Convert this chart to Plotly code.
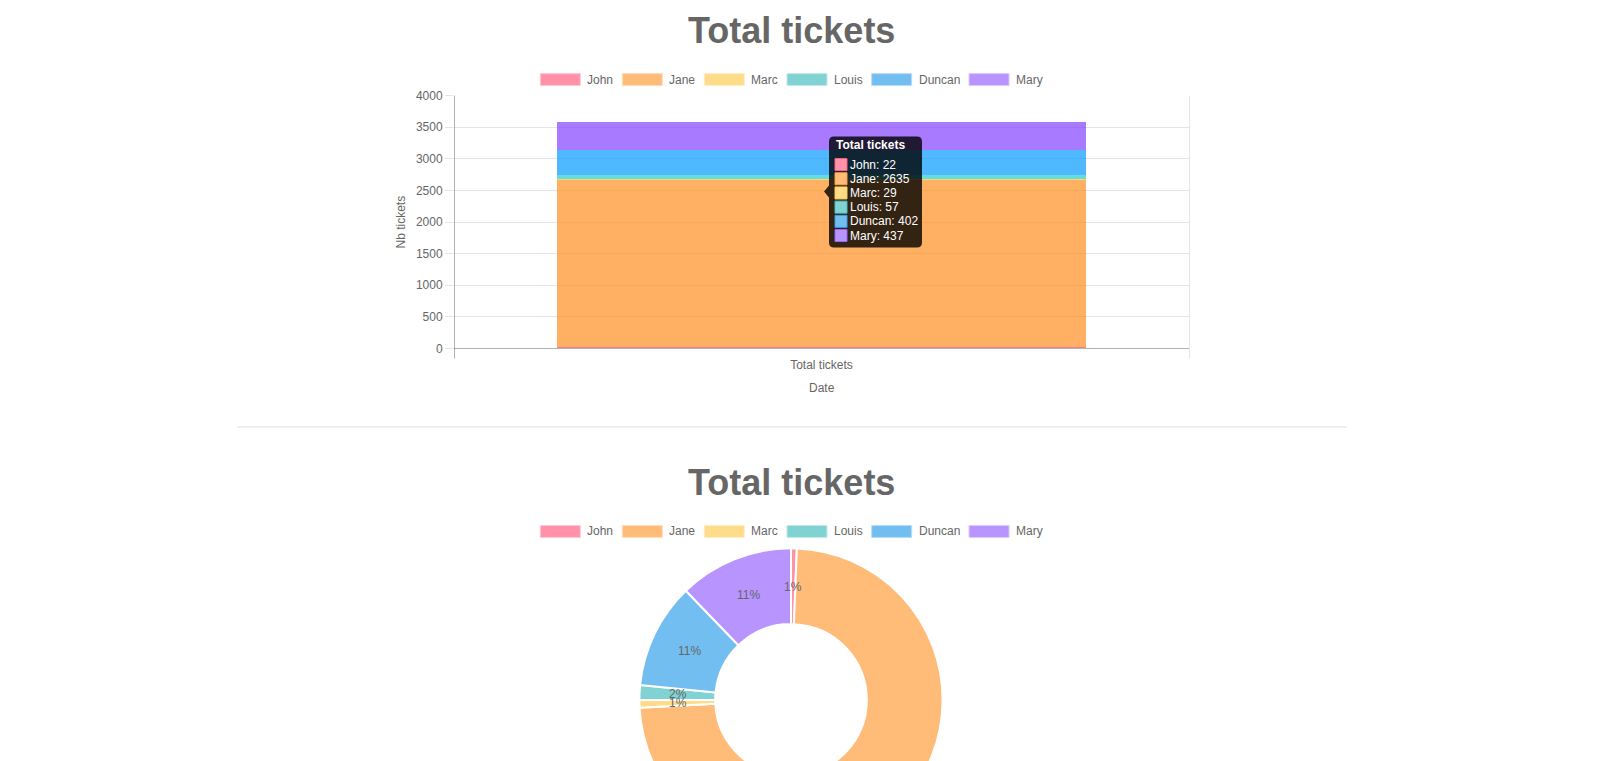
import math
import colorsys
import plotly.graph_objects as go

# ---------------- data ----------------
names = ["John", "Jane", "Marc", "Louis", "Duncan", "Mary"]
bar_values = [22, 2635, 29, 57, 402, 437]
pie_values = [22, 2635, 29, 57, 402, 437]
pie_pct_labels = ["1%", "74%", "1%", "2%", "11%", "11%"]
categories = ["Total tickets"]
y_ticks = [0, 500, 1000, 1500, 2000, 2500, 3000, 3500, 4000]
chart_title = "Total tickets"
x_title = "Date"
y_title = "Nb tickets"
tooltip_title = "Total tickets"

# ---------------- style ----------------
base_rgb = [(255, 99, 132), (255, 159, 64), (255, 205, 86),
            (75, 192, 192), (54, 162, 235), (153, 102, 255)]
FONT = "Liberation Sans, Arial, Helvetica, sans-serif"
GREY = "#666666"
W, H = 1583, 900
# page -> capture correction for the vertical direction
Y_SCALE, Y_OFF = 1.0155, -6.5


def px(x):
    return x / W


def py(y):
    return 1 - (Y_SCALE * y + Y_OFF) / H


def rgba(c, a):
    return f"rgba({c[0]},{c[1]},{c[2]},{a})"


def blend(c, a):
    return "#%02x%02x%02x" % tuple(round(255 - a * (255 - v)) for v in c)


def hover(c):
    h, l, s = colorsys.rgb_to_hls(*(v / 255 for v in c))
    s = min(1.0, s * 1.5)
    l = l * 0.9
    return tuple(round(v * 255) for v in colorsys.hls_to_rgb(h, l, s))


CHAR_W = {"J": 500, "o": 556, "h": 556, "n": 556, "a": 556, "e": 556, "M": 833,
          "r": 333, "c": 500, "L": 556, "u": 556, "i": 222, "s": 500, "D": 722,
          "y": 500}


def text_w(s, size=12):
    return sum(CHAR_W.get(ch, 556) for ch in s) * size / 1000


fig = go.Figure()

# stacked bars (hovered look)
for n, v, c in zip(names, bar_values, base_rgb):
    fig.add_trace(go.Bar(x=categories, y=[v], name=n,
                         marker=dict(color=rgba(hover(c), 0.7), line=dict(width=0)),
                         showlegend=False, hoverinfo="skip"))

# doughnut
PIE_CX, PIE_CY, PIE_R = 791, 699.5, 150.5
DOM_R = PIE_R + 3.5
pcy = Y_SCALE * PIE_CY + Y_OFF
fig.add_trace(go.Pie(labels=names, values=pie_values, hole=0.5, sort=False,
                     direction="clockwise", rotation=0,
                     marker=dict(colors=[blend(c, 0.7) for c in base_rgb],
                                 line=dict(color="white", width=2)),
                     textinfo="none",
                     domain=dict(x=[px(PIE_CX - DOM_R), px(PIE_CX + DOM_R)],
                                 y=[1 - (pcy + DOM_R) / H, 1 - (pcy - DOM_R) / H]),
                     showlegend=False, hoverinfo="skip"))

shapes = []
annotations = []

# percentage labels in the middle of the ring
total_pie = sum(pie_values)
cum = 0
r_mid = PIE_R * 0.75
for v, lab in zip(pie_values, pie_pct_labels):
    ang = 2 * math.pi * (cum + v / 2) / total_pie
    cum += v
    lx = PIE_CX + r_mid * math.sin(ang)
    ly = PIE_CY - r_mid * math.cos(ang)
    if ly > 755:
        continue  # below the visible part of the page
    annotations.append(dict(x=px(lx), y=py(ly), xref="paper", yref="paper", text=lab,
                            showarrow=False, xanchor="center", yanchor="middle",
                            font=dict(size=12, color=GREY, family=FONT)))

# titles
for ty in (30, 482):
    annotations.append(dict(x=px(791), y=py(ty), xref="paper", yref="paper",
                            text=f"<b>{chart_title}</b>", showarrow=False,
                            font=dict(size=36, color=GREY, family=FONT),
                            xanchor="center", yanchor="middle"))

# custom legends
item_w = [40 + 6 + text_w(n) for n in names]
total = sum(item_w) + 10 * (len(names) - 1)
for ly in (79, 531):
    x = 791 - total / 2
    for n, c, w in zip(names, base_rgb, item_w):
        shapes.append(dict(type="rect", xref="paper", yref="paper",
                           x0=px(x), x1=px(x + 40), y0=py(ly - 6), y1=py(ly + 6),
                           fillcolor=blend(c, 0.7), line=dict(color=blend(c, 0.35), width=1)))
        annotations.append(dict(x=px(x + 45), y=py(ly), xref="paper", yref="paper",
                                text=n, showarrow=False, xanchor="left", yanchor="middle",
                                font=dict(size=12, color=GREY, family=FONT)))
        x += w + 10

# axis frame lines
shapes.append(dict(type="line", xref="paper", yref="paper", x0=px(454.5), x1=px(454.5),
                   y0=py(95), y1=py(358), line=dict(color="rgba(0,0,0,0.3)", width=1)))
shapes.append(dict(type="line", xref="paper", yref="paper", x0=px(1189.5), x1=px(1189.5),
                   y0=py(95), y1=py(358), line=dict(color="rgba(0,0,0,0.1)", width=1)))
# separator
shapes.append(dict(type="line", xref="paper", yref="paper", x0=px(237), x1=px(1347),
                   y0=py(426.5), y1=py(426.5), line=dict(color="rgba(0,0,0,0.12)", width=1)))

# axis titles
annotations.append(dict(x=px(401), y=py(222), xref="paper", yref="paper", text=y_title,
                        textangle=-90, showarrow=False, xanchor="center", yanchor="middle",
                        font=dict(size=12, color=GREY, family=FONT)))
annotations.append(dict(x=px(822), y=py(388), xref="paper", yref="paper", text=x_title,
                        showarrow=False, xanchor="center", yanchor="middle",
                        font=dict(size=12, color=GREY, family=FONT)))

# tooltip
bx0, bx1, by0, by1, r = 829, 922, 136, 247, 5


def P(x, y):
    return f"{px(x)},{py(y)}"


path = (f"M {P(bx0 + r, by0)} L {P(bx1 - r, by0)} Q {P(bx1, by0)} {P(bx1, by0 + r)} "
        f"L {P(bx1, by1 - r)} Q {P(bx1, by1)} {P(bx1 - r, by1)} "
        f"L {P(bx0 + r, by1)} Q {P(bx0, by1)} {P(bx0, by1 - r)} "
        f"L {P(bx0, 197)} L {P(824, 191)} L {P(bx0, 185)} "
        f"L {P(bx0, by0 + r)} Q {P(bx0, by0)} {P(bx0 + r, by0)} Z")
shapes.append(dict(type="path", xref="paper", yref="paper", path=path,
                   fillcolor="rgba(0,0,0,0.8)", line=dict(width=0)))
annotations.append(dict(x=px(834), y=py(144), xref="paper", yref="paper",
                        text=f"<b>{tooltip_title}</b>", showarrow=False, xanchor="left",
                        yanchor="middle", font=dict(size=12, color="white", family=FONT)))
for i, (n, v, c) in enumerate(zip(names, bar_values, base_rgb)):
    top = 158 + i * 14.2
    shapes.append(dict(type="rect", xref="paper", yref="paper",
                       x0=px(835), x1=px(847), y0=py(top), y1=py(top + 12),
                       fillcolor=blend(c, 0.7), line=dict(color=rgba(c, 1), width=1)))
    annotations.append(dict(x=px(848), y=py(top + 6), xref="paper", yref="paper",
                            text=f"{n}: {v}", showarrow=False, xanchor="left",
                            yanchor="middle", font=dict(size=12, color="white", family=FONT)))

fig.update_layout(
    width=W, height=H, margin=dict(l=0, r=0, t=0, b=0),
    paper_bgcolor="white", plot_bgcolor="white",
    barmode="stack", bargap=0.28,
    font=dict(family=FONT, size=12, color=GREY),
    xaxis=dict(domain=[px(454), px(1189)], range=[-0.5, 0.5], showgrid=False,
               zeroline=False, showline=False, ticks="outside", ticklen=5,
               tickcolor="rgba(0,0,0,0)", tickfont=dict(size=12, color=GREY, family=FONT),
               fixedrange=True),
    yaxis=dict(domain=[py(348), py(95)], range=[0, 4000], tickvals=y_ticks,
               gridcolor="rgba(0,0,0,0.1)", gridwidth=1, zeroline=True,
               zerolinecolor="rgba(0,0,0,0.3)", zerolinewidth=1, showline=False,
               ticks="outside", ticklen=8, tickcolor="rgba(0,0,0,0.1)",
               tickfont=dict(size=12, color=GREY, family=FONT), fixedrange=True),
    shapes=shapes, annotations=annotations, hovermode=False,
)

fig.write_html("out.html", config={"displayModeBar": False})
